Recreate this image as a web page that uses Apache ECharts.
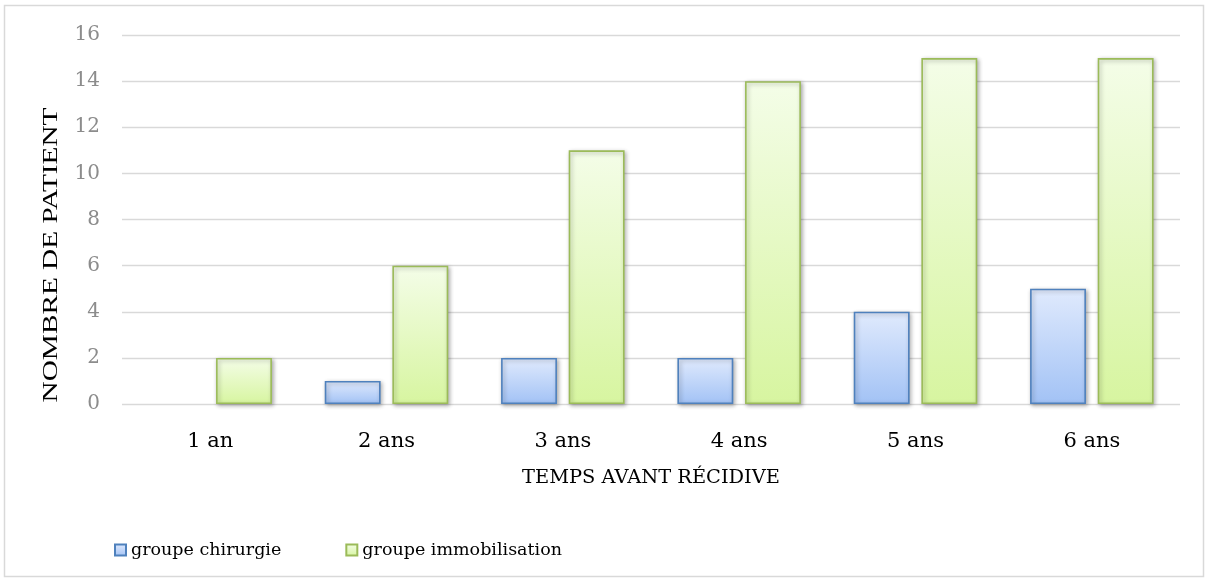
<!DOCTYPE html>
<html>
<head>
<meta charset="utf-8">
<script src="https://cdn.jsdelivr.net/npm/echarts@6/dist/echarts.min.js"></script>
<style>
  html, body { margin: 0; padding: 0; background: #ffffff; }
  #chart { width: 1208px; height: 581px; }
</style>
</head>
<body>
<div id="chart"></div>
<script>
// Time before recurrence (categories) and patient counts per group
const categories = ['1 an', '2 ans', '3 ans', '4 ans', '5 ans', '6 ans'];
const chirurgie = [0, 1, 2, 2, 4, 5];
const immobilisation = [2, 6, 11, 14, 15, 15];
const yTicks = { min: 0, max: 16, interval: 2 };
const xTitle = 'TEMPS AVANT RÉCIDIVE';
const yTitle = 'NOMBRE DE PATIENT';

const FONT = '"DejaVu Serif", serif';
const TITLE_FONT = '"Liberation Serif", serif';

function grad(top, bottom) {
  return new echarts.graphic.LinearGradient(0, 0, 0, 1, [
    { offset: 0, color: top },
    { offset: 1, color: bottom }
  ]);
}

// A zero count draws no bar at all (no outline on the baseline)
function barData(values) {
  return values.map(v => v === 0
    ? { value: v, itemStyle: { borderWidth: 0, shadowBlur: 0, opacity: 0 } }
    : v);
}

const barShadow = {
  shadowColor: 'rgba(0,0,0,0.3)',
  shadowBlur: 4,
  shadowOffsetX: 1.5,
  shadowOffsetY: 1.5
};

const chart = echarts.init(document.getElementById('chart'), null, { renderer: 'canvas' });

chart.setOption({
  animation: false,
  backgroundColor: '#ffffff',
  textStyle: { fontFamily: FONT },
  graphic: [
    {
      type: 'rect',
      shape: { x: 4.5, y: 5.5, width: 1199, height: 571 },
      style: { fill: 'none', stroke: '#d9d9d9', lineWidth: 1.5 },
      silent: true,
      z: -1
    },
    {
      // vertical axis title, set bottom-to-top and stretched along its length
      type: 'text',
      x: 51,
      y: 255,
      rotation: Math.PI / 2,
      scaleX: 1.33,
      style: {
        text: yTitle,
        font: '22px ' + TITLE_FONT,
        fill: '#000000',
        align: 'center',
        verticalAlign: 'middle'
      },
      silent: true
    }
  ],
  grid: { left: 122, right: 28, top: 35, bottom: 177, containLabel: false },
  legend: {
    left: 109,
    top: 536,
    icon: 'rect',
    itemWidth: 11,
    itemHeight: 11,
    itemGap: 64,
    textStyle: { fontFamily: FONT, fontSize: 17.5, color: '#000000' },
    data: ['groupe chirurgie', 'groupe immobilisation']
  },
  xAxis: {
    type: 'category',
    data: categories,
    name: xTitle,
    nameLocation: 'middle',
    nameGap: 64,
    nameTextStyle: { fontFamily: FONT, fontSize: 19.4, color: '#000000' },
    axisLine: { show: false },
    axisTick: { show: false },
    axisLabel: { fontFamily: FONT, fontSize: 21, color: '#000000', margin: 27 }
  },
  yAxis: {
    type: 'value',
    min: yTicks.min,
    max: yTicks.max,
    interval: yTicks.interval,
    axisLine: { show: false },
    axisTick: { show: false },
    axisLabel: { fontFamily: FONT, fontSize: 20, color: '#8c8c8c', margin: 22 },
    splitLine: { lineStyle: { color: '#d9d9d9', width: 1.4 } }
  },
  series: [
    {
      name: 'groupe chirurgie',
      type: 'bar',
      data: barData(chirurgie),
      barWidth: '31.7%',
      barGap: '21%',
      itemStyle: Object.assign({
        color: grad('#e0eafd', '#a2c2f5'),
        borderColor: '#4f81bd',
        borderWidth: 1.6
      }, barShadow)
    },
    {
      name: 'groupe immobilisation',
      type: 'bar',
      data: barData(immobilisation),
      barWidth: '31.7%',
      itemStyle: Object.assign({
        color: grad('#f4fde8', '#d7f5a0'),
        borderColor: '#9bbb59',
        borderWidth: 1.6
      }, barShadow)
    }
  ]
});
</script>
</body>
</html>
